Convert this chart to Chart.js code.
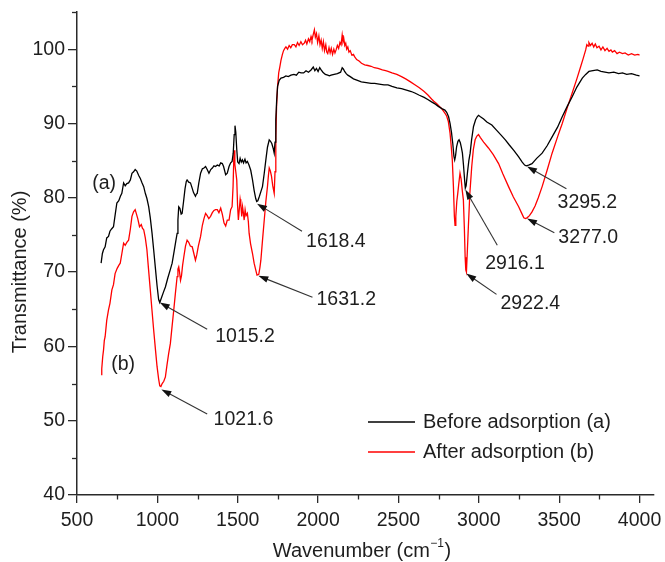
<!DOCTYPE html>
<html><head><meta charset="utf-8">
<script src="https://cdn.jsdelivr.net/npm/chart.js@4.4.0/dist/chart.umd.min.js"></script>
<style>html,body{margin:0;padding:0;background:#fff}canvas{display:block}</style>
</head><body>
<canvas id="c" width="665" height="562"></canvas>
<script>
// ---------- DATA ----------
const wavenumberA = [650,658,665,675,685,696,705,715,727,738,748,760,770,779,790,800,810,821,832,842,852,862,872,884,894,905,915,925,935,946,956,967,977,987,998,1008,1015,1025,1038,1050,1065,1080,1092,1105,1115,1123,1128,1133,1140,1148,1154,1163,1172,1180,1185,1195,1206,1215,1225,1237,1243,1248,1258,1269,1280,1290,1300,1310,1321,1332,1342,1352,1362,1373,1385,1394,1404,1412,1425,1435,1446,1456,1465,1472,1478,1483,1488,1494,1500,1508,1515,1522,1529,1536,1545,1552,1560,1570,1581,1592,1602,1612,1618,1625,1635,1645,1654,1665,1675,1685,1696,1704,1712,1720,1727,1732,1737,1742,1748,1758,1769,1785,1800,1815,1831,1850,1865,1880,1894,1910,1925,1940,1956,1970,1980,1990,2000,2010,2019,2030,2045,2060,2070,2081,2100,2120,2140,2150,2158,2165,2175,2185,2200,2220,2245,2269,2300,2330,2352,2380,2410,2435,2460,2490,2519,2550,2580,2602,2630,2660,2685,2706,2730,2748,2770,2789,2800,2812,2821,2830,2838,2845,2850,2855,2862,2870,2877,2885,2892,2898,2905,2912,2916,2921,2930,2938,2946,2955,2967,2980,2990,2998,3010,3030,3050,3081,3110,3140,3165,3190,3220,3248,3270,3285,3295,3310,3331,3360,3394,3425,3456,3490,3519,3550,3581,3610,3644,3665,3685,3710,3737,3760,3785,3810,3840,3870,3894,3920,3950,3980,4000];
const transmittanceA = [71.2,72.5,73.0,73.4,74.6,74.8,75.5,75.8,76.1,77.8,79.3,79.6,80.2,80.6,82.0,81.6,81.9,82.0,82.4,83.3,83.5,83.8,83.6,83.0,82.6,82.0,81.5,80.6,79.9,78.8,77.3,75.2,73.0,70.7,68.2,66.3,65.9,66.5,67.3,68.0,69.2,70.3,71.2,72.9,74.2,75.2,77.0,78.8,78.6,77.8,77.9,79.5,81.2,82.2,82.4,82.1,82.0,81.4,80.7,80.2,80.5,80.6,82.0,83.3,83.9,84.0,84.2,83.8,83.3,83.8,84.0,84.3,84.2,84.4,84.3,84.7,84.6,84.2,83.1,83.3,84.2,84.7,84.9,86.0,88.5,89.7,88.8,86.5,84.8,84.6,85.3,84.8,85.1,84.7,85.2,84.7,84.9,84.4,83.7,82.4,81.0,79.9,79.5,79.6,80.2,80.9,81.5,83.3,85.1,86.8,87.8,87.6,87.3,86.7,86.0,87.5,90.5,93.0,95.0,95.8,96.1,96.2,96.4,96.3,96.5,96.6,96.5,96.9,96.8,96.8,97.1,96.9,97.2,97.6,97.1,97.4,97.0,97.5,97.2,96.9,96.6,96.5,96.4,96.5,96.6,96.7,96.9,97.5,97.3,97.0,96.7,96.5,96.3,96.0,95.8,95.6,95.5,95.4,95.4,95.3,95.2,95.2,95.0,94.8,94.7,94.5,94.3,94.1,93.8,93.5,93.2,92.9,92.6,92.3,92.0,91.8,91.5,90.9,90.0,88.8,87.3,85.6,85.1,85.6,86.9,87.6,87.8,87.4,86.7,86.0,84.3,82.3,81.3,81.6,83.5,85.0,86.0,87.8,89.6,90.5,90.9,91.1,90.9,90.6,90.2,89.8,89.1,88.4,87.8,87.1,86.3,85.5,84.8,84.4,84.3,84.4,84.6,85.3,86.0,87.0,88.2,89.5,90.9,92.3,93.6,94.9,96.1,96.6,97.0,97.1,97.2,97.0,96.9,96.8,96.9,96.7,96.8,96.6,96.7,96.5,96.4];

const wavenumberB = [650,654,660,665,670,675,685,696,705,717,727,737,750,760,769,780,790,800,810,821,832,842,852,862,870,878,889,900,907,915,925,935,945,956,966,977,988,998,1008,1015,1022,1030,1040,1050,1060,1070,1081,1092,1102,1112,1123,1128,1133,1138,1144,1150,1157,1165,1175,1185,1195,1205,1217,1227,1237,1245,1255,1269,1280,1290,1300,1310,1320,1331,1342,1352,1362,1373,1383,1394,1404,1415,1425,1435,1446,1456,1465,1471,1477,1482,1488,1494,1499,1504,1510,1515,1519,1525,1530,1535,1540,1546,1552,1560,1566,1571,1580,1592,1602,1612,1620,1631,1638,1644,1655,1665,1675,1685,1691,1696,1703,1710,1718,1727,1732,1737,1742,1748,1755,1762,1769,1778,1785,1793,1800,1810,1820,1830,1840,1852,1862,1872,1882,1893,1903,1914,1922,1930,1940,1948,1956,1962,1970,1977,1983,1990,1997,2005,2012,2019,2026,2033,2040,2048,2054,2060,2068,2075,2082,2090,2098,2105,2112,2120,2128,2136,2143,2150,2155,2160,2166,2172,2178,2185,2192,2200,2210,2220,2227,2240,2255,2270,2290,2310,2330,2350,2373,2400,2420,2435,2460,2490,2519,2545,2575,2602,2630,2660,2685,2706,2720,2737,2755,2769,2789,2800,2810,2821,2828,2835,2842,2848,2852,2857,2863,2869,2876,2883,2890,2897,2904,2910,2915,2919,2923,2928,2935,2944,2956,2966,2977,2988,2998,3010,3030,3060,3090,3123,3150,3185,3215,3248,3265,3280,3290,3300,3315,3331,3350,3370,3394,3425,3456,3490,3519,3550,3581,3610,3633,3650,3665,3672,3680,3685,3695,3705,3715,3725,3735,3748,3760,3772,3785,3798,3810,3822,3831,3845,3860,3875,3894,3910,3930,3950,3970,3990,4000];
const transmittanceB = [56.2,57.0,58.6,59.5,60.8,61.3,63.5,64.9,65.8,67.6,68.3,69.8,70.5,70.9,71.2,72.6,73.9,73.6,74.0,74.3,75.8,77.5,78.1,78.4,77.8,77.2,76.1,76.4,75.9,75.7,74.6,73.0,70.4,67.6,65.0,62.2,59.6,57.3,55.6,54.7,54.6,55.0,55.3,55.9,57.5,59.0,60.4,62.8,64.9,67.1,69.4,70.4,70.7,70.0,68.9,69.5,70.9,72.1,73.5,74.3,74.0,73.5,73.4,72.5,71.6,72.3,73.5,74.8,76.3,77.2,77.9,77.6,77.2,77.5,78.0,78.3,78.4,78.4,78.0,78.6,77.8,76.6,76.2,77.0,77.0,78.4,78.8,81.5,86.4,84.5,83.5,82.4,79.0,77.0,78.5,79.8,79.2,77.5,78.8,78.0,77.0,78.4,77.6,77.9,76.8,75.2,73.8,72.5,71.2,70.3,69.6,69.7,70.6,71.6,74.5,77.0,79.5,81.5,83.0,84.0,83.6,82.9,81.6,80.6,83.5,88.2,92.5,95.0,96.8,97.6,98.5,99.3,99.8,100.1,100.3,100.0,100.5,100.2,100.6,100.6,100.3,100.9,100.5,101.0,100.6,100.8,101.2,100.7,101.4,101.0,101.7,101.2,102.0,102.6,101.6,102.1,100.9,101.8,100.6,101.2,100.1,101.0,99.8,100.6,99.6,99.4,100.2,99.5,100.1,99.3,100.0,99.5,99.9,100.5,100.1,100.9,100.6,101.9,101.0,101.4,100.5,100.8,100.0,100.3,99.6,99.8,99.2,99.3,99.0,98.6,98.4,98.1,97.9,97.8,97.7,97.5,97.4,97.2,97.1,97.0,96.8,96.6,96.3,96.0,95.6,95.2,94.8,94.3,93.8,93.3,93.0,92.7,92.3,92.0,91.4,91.0,90.3,88.7,87.0,85.1,81.5,77.5,76.3,77.5,79.5,80.6,82.0,83.3,82.5,81.0,79.7,76.0,72.0,70.3,70.0,72.5,76.1,80.5,84.2,86.5,87.8,88.3,88.5,88.1,87.5,86.7,85.8,84.6,83.2,81.5,80.1,78.8,78.0,77.3,77.2,77.3,77.6,78.1,78.9,80.0,81.5,83.7,86.0,88.2,90.0,92.1,94.1,96.0,97.6,98.8,99.9,100.6,100.4,100.9,100.5,100.8,100.3,100.7,100.2,100.4,99.9,100.3,99.8,100.1,99.7,99.9,99.6,99.8,99.4,99.6,99.4,99.5,99.2,99.4,99.2,99.3,99.2];

const xTickValues = [500,1000,1500,2000,2500,3000,3500,4000];
const xMinorValues = [750,1250,1750,2250,2750,3250,3750];
const yTickValues = [40,50,60,70,80,90,100];
const yMinorValues = [45,55,65,75,85,95,105];
const seriesNames = ['Before adsorption (a)','After adsorption (b)'];
const peakNames = ['1015.2','1021.6','1618.4','1631.2','2916.1','2922.4','3295.2','3277.0'];

// ---------- ANNOTATION LAYOUT (data coordinates) ----------
const annotationLayout = [
  {tip:[1015,65.9], tail:[1310,62.3], label:[1360,61.3]},
  {tip:[1025,54.2], tail:[1310,50.9], label:[1350,50.1]},
  {tip:[1620,79.2], tail:[1900,75.5], label:[1925,74.1]},
  {tip:[1628,69.5], tail:[1965,66.6], label:[1990,66.3]},
  {tip:[2916,81.1], tail:[3115,73.6], label:[3040,71.2]},
  {tip:[2922,69.8], tail:[3110,67.0], label:[3135,65.8]},
  {tip:[3300,84.2], tail:[3545,81.2], label:[3490,79.3]},
  {tip:[3300,77.2], tail:[3470,75.3], label:[3495,74.6]}
];
const curveLabels = [{text:'(a)', at:[595,81.9]},{text:'(b)', at:[713,57.5]}];

const FONT = "'Liberation Sans', Arial, Helvetica, sans-serif";
const TXT = '#1e1e1e';
const AXIS = '#2a2a2a';

function arrow(ctx, x1, y1, x2, y2){
  const a = Math.atan2(y2-y1, x2-x1), L = 10, W = 3.3;
  const c = Math.cos(a), s = Math.sin(a);
  ctx.beginPath(); ctx.moveTo(x1,y1); ctx.lineTo(x2 - L*0.7*c, y2 - L*0.7*s); ctx.stroke();
  ctx.beginPath();
  ctx.moveTo(x2,y2);
  ctx.lineTo(x2 - L*c + W*s, y2 - L*s - W*c);
  ctx.lineTo(x2 - L*c - W*s, y2 - L*s + W*c);
  ctx.closePath(); ctx.fill();
}

const overlay = {
  id:'overlay',
  afterDraw(chart){
    const {ctx, chartArea:ca, scales:{x, y}} = chart;
    ctx.save();
    // minor ticks
    ctx.strokeStyle = AXIS; ctx.lineWidth = 1.3;
    xMinorValues.forEach(v => { const p = Math.round(x.getPixelForValue(v))+0.5; ctx.beginPath(); ctx.moveTo(p, ca.bottom); ctx.lineTo(p, ca.bottom+4.5); ctx.stroke(); });
    yMinorValues.forEach(v => { const p = Math.round(y.getPixelForValue(v))+0.5; ctx.beginPath(); ctx.moveTo(ca.left, p); ctx.lineTo(ca.left-5, p); ctx.stroke(); });

    // arrows + peak labels
    ctx.strokeStyle = '#333'; ctx.fillStyle = '#111'; ctx.lineWidth = 1.1;
    ctx.font = '19.5px ' + FONT; ctx.textBaseline = 'middle'; ctx.textAlign = 'left';
    annotationLayout.forEach((a, i) => {
      const tx = x.getPixelForValue(a.tip[0]), ty = y.getPixelForValue(a.tip[1]);
      const sx = x.getPixelForValue(a.tail[0]), sy = y.getPixelForValue(a.tail[1]);
      arrow(ctx, sx, sy, tx, ty);
    });
    ctx.fillStyle = TXT;
    annotationLayout.forEach((a, i) => {
      ctx.fillText(peakNames[i], x.getPixelForValue(a.label[0]), y.getPixelForValue(a.label[1]));
    });
    curveLabels.forEach(c => ctx.fillText(c.text, x.getPixelForValue(c.at[0]), y.getPixelForValue(c.at[1])));

    // legend
    const lx0 = 368, lx1 = 415, tx0 = 423;
    [[422,'#000000'],[452,'#ff0000']].forEach((r, i) => {
      ctx.strokeStyle = r[1]; ctx.lineWidth = 1.4;
      ctx.beginPath(); ctx.moveTo(lx0, r[0]); ctx.lineTo(lx1, r[0]); ctx.stroke();
      ctx.fillStyle = TXT; ctx.font = '20px ' + FONT;
      ctx.fillText(seriesNames[i], tx0, r[0]);
    });

    // axis titles
    ctx.fillStyle = TXT;
    ctx.save();
    ctx.translate(20, 272); ctx.rotate(-Math.PI/2);
    ctx.textAlign = 'center'; ctx.textBaseline = 'middle'; ctx.font = '20px ' + FONT;
    ctx.fillText('Transmittance (%)', 0, 0);
    ctx.restore();

    ctx.textBaseline = 'alphabetic'; ctx.textAlign = 'left';
    const main = 'Wavenumber (cm', sup = '\u22121', close = ')';
    ctx.font = '20px ' + FONT; const w1 = ctx.measureText(main).width, w3 = ctx.measureText(close).width;
    ctx.font = '12px ' + FONT; const w2 = ctx.measureText(sup).width;
    let sx = 362 - (w1 + w2 + w3 + 1)/2, base = 557;
    ctx.font = '20px ' + FONT; ctx.fillText(main, sx, base);
    ctx.font = '12px ' + FONT; ctx.fillText(sup, sx + w1 + 0.5, base - 10);
    ctx.font = '20px ' + FONT; ctx.fillText(close, sx + w1 + w2 + 1, base);
    ctx.restore();
  }
};

const ctxEl = document.getElementById('c');
new Chart(ctxEl, {
  type:'line',
  data:{
    datasets:[
      {label:seriesNames[0], data:wavenumberA.map((w,i)=>({x:w, y:transmittanceA[i]})), borderColor:'#000000', borderWidth:1.3, pointRadius:0, tension:0, fill:false},
      {label:seriesNames[1], data:wavenumberB.map((w,i)=>({x:w, y:transmittanceB[i]})), borderColor:'#ff0000', borderWidth:1.3, pointRadius:0, tension:0, fill:false}
    ]
  },
  options:{
    responsive:false, animation:false, devicePixelRatio:1,
    layout:{padding:{left:0, right:11, top:12, bottom:0}},
    plugins:{legend:{display:false}, tooltip:{enabled:false}},
    scales:{
      x:{
        type:'linear', min:500, max:4090,
        afterBuildTicks:s => { s.ticks = xTickValues.map(v=>({value:v})); },
        afterFit:s => { s.height = 67; s.paddingLeft = 0; s.paddingRight = 0; },
        grid:{drawOnChartArea:false, drawTicks:true, tickLength:8, color:AXIS, lineWidth:1.3},
        border:{display:true, color:AXIS, width:1.5},
        ticks:{color:TXT, font:{family:FONT, size:19.5}, padding:6, maxRotation:0, autoSkip:false, callback:v=>String(v)}
      },
      y:{
        type:'linear', min:40, max:105,
        afterBuildTicks:s => { s.ticks = yTickValues.map(v=>({value:v})); },
        afterFit:s => { s.width = 77; s.paddingTop = 0; s.paddingBottom = 0; },
        grid:{drawOnChartArea:false, drawTicks:true, tickLength:9, color:AXIS, lineWidth:1.3},
        border:{display:true, color:AXIS, width:1.5},
        ticks:{color:TXT, font:{family:FONT, size:19.5}, padding:3, autoSkip:false, callback:v=>String(v)}
      }
    }
  },
  plugins:[overlay]
});
</script>
</body></html>
